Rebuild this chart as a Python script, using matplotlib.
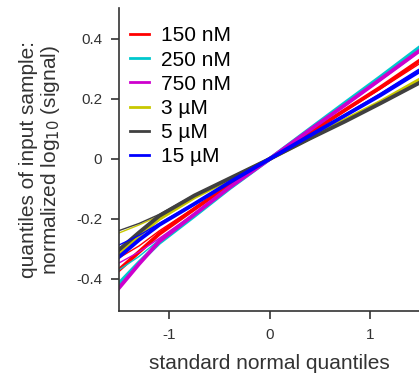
import matplotlib
matplotlib.use("Agg")
import matplotlib.pyplot as plt

plt.rcParams["font.family"] = ["Liberation Sans", "DejaVu Sans"]

q = [-1.5, -1.3, -1.1, -0.75, -0.4, 0.0, 0.4, 0.75, 1.1, 1.48]

labels = ["150 nM", "250 nM", "750 nM", "3 µM", "5 µM", "15 µM"]
colors = ["#FF0000", "#00C8CD", "#CD00CD", "#C8C800", "#404040", "#0000FF"]

# two replicates per concentration (thick, thin)
red_a = [-0.37, -0.31, -0.25, -0.167, -0.086, 0.0, 0.087, 0.163, 0.238, 0.325]
red_b = [-0.33, -0.29, -0.24, -0.163, -0.085, 0.0, 0.086, 0.16, 0.233, 0.315]
cyan_a = [-0.415, -0.345, -0.28, -0.19, -0.098, 0.0, 0.1, 0.187, 0.273, 0.369]
cyan_b = [-0.37, -0.325, -0.27, -0.187, -0.097, 0.0, 0.099, 0.184, 0.268, 0.362]
mag_a = [-0.43, -0.35, -0.275, -0.185, -0.095, 0.0, 0.097, 0.18, 0.265, 0.358]
mag_b = [-0.347, -0.31, -0.265, -0.182, -0.094, 0.0, 0.096, 0.178, 0.262, 0.355]
yel_a = [-0.312, -0.255, -0.2, -0.128, -0.068, 0.0, 0.07, 0.13, 0.19, 0.262]
yel_b = [-0.247, -0.22, -0.19, -0.125, -0.067, 0.0, 0.069, 0.128, 0.188, 0.258]
gray_a = [-0.303, -0.245, -0.19, -0.122, -0.065, 0.0, 0.068, 0.125, 0.185, 0.252]
gray_b = [-0.239, -0.215, -0.185, -0.12, -0.064, 0.0, 0.066, 0.124, 0.184, 0.25]
blue_a = [-0.327, -0.27, -0.22, -0.15, -0.078, 0.0, 0.078, 0.145, 0.212, 0.29]
blue_b = [-0.287, -0.255, -0.215, -0.148, -0.077, 0.0, 0.08, 0.148, 0.218, 0.298]

series = [(red_a, red_b), (cyan_a, cyan_b), (mag_a, mag_b),
          (yel_a, yel_b), (gray_a, gray_b), (blue_a, blue_b)]

fig = plt.figure(figsize=(4.19, 3.76), dpi=100)
ax = fig.add_axes([119 / 419, 65 / 376, 300 / 419, 303 / 376])

for (a, b), c, lab in zip(series, colors, labels):
    ax.plot(q, b, color=c, lw=1.0)
    ax.plot(q, a, color=c, lw=2.8, label=lab)

ax.set_xlim(-1.5, 1.485)
ax.set_ylim(-0.507, 0.503)

ax.set_xticks([-1, 0, 1])
ax.set_xticklabels(["-1", "0", "1"])
ax.set_yticks([-0.4, -0.2, 0, 0.2, 0.4])
ax.set_yticklabels(["-0.4", "-0.2", "0", "0.2", "0.4"])

for s in ["top", "right"]:
    ax.spines[s].set_visible(False)
for s in ["left", "bottom"]:
    ax.spines[s].set_color("#333333")
    ax.spines[s].set_linewidth(1.2)
ax.tick_params(direction="out", length=6, width=1.2, color="#333333",
               labelsize=11, labelcolor="#333333", pad=6)

ax.set_xlabel("standard normal quantiles", fontsize=15, color="#333333", labelpad=9)
ax.set_ylabel("quantiles of input sample:\nnormalized log$_{10}$ (signal)",
              fontsize=15, color="#333333", labelpad=10, linespacing=1.1)

leg = ax.legend(loc="upper left", bbox_to_anchor=(0.01, 0.967), frameon=False,
                fontsize=15, handlelength=0.9, handletextpad=0.55,
                labelspacing=0.25, borderaxespad=0)
for h in leg.legend_handles:
    h.set_linewidth(2)

fig.savefig("out.png", dpi=100)
